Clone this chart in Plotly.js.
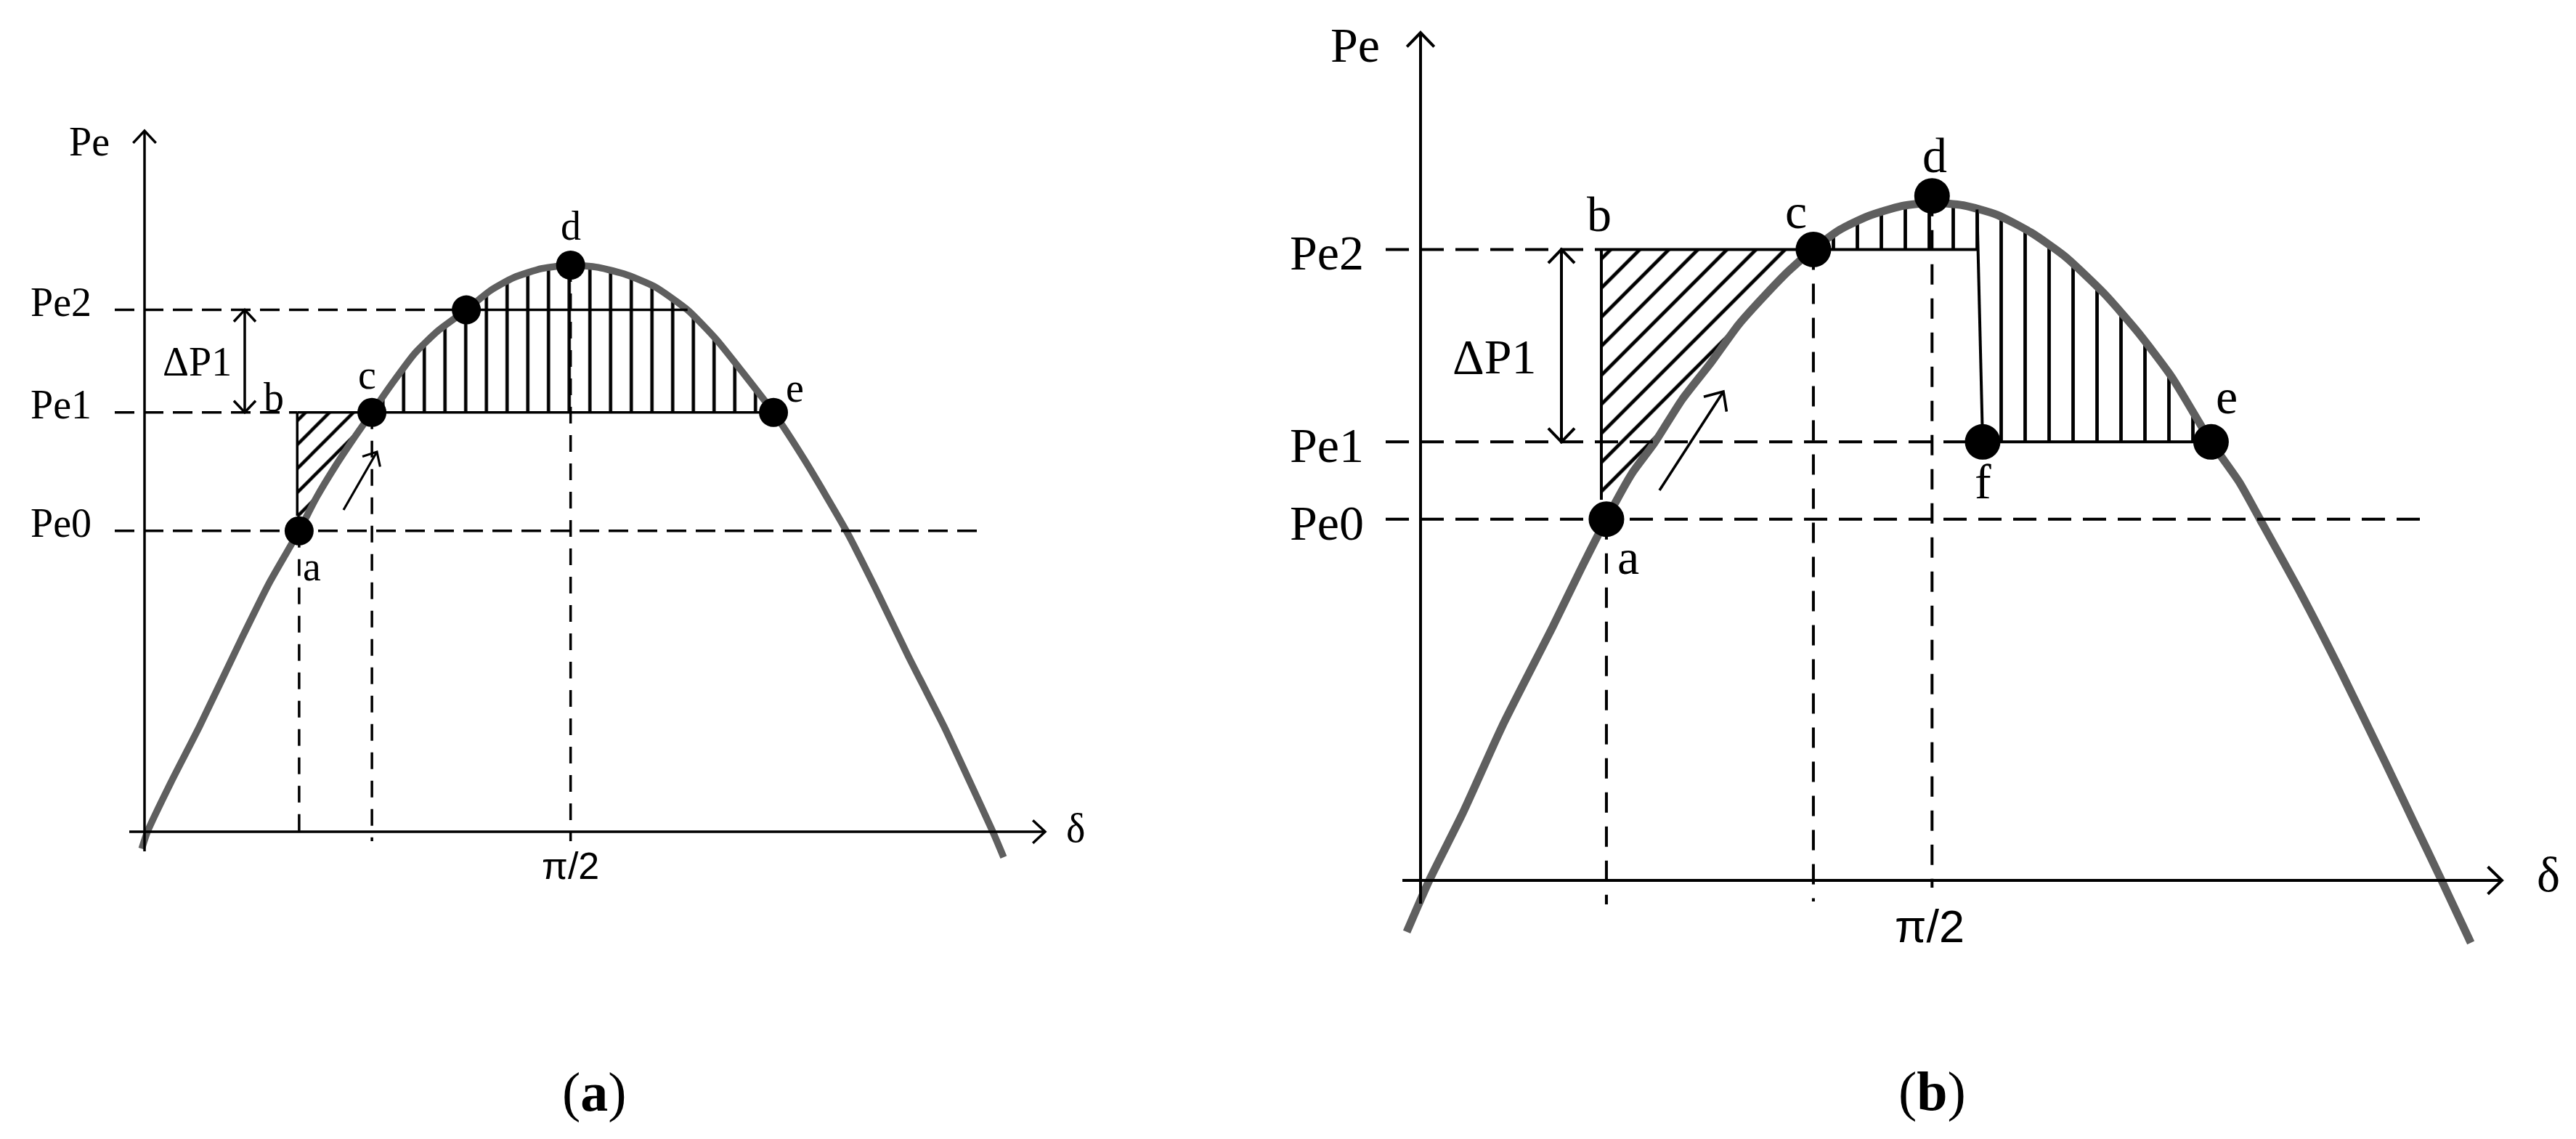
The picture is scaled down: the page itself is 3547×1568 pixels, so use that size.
<!DOCTYPE html>
<html>
<head>
<meta charset="utf-8">
<script src="https://cdn.plot.ly/plotly-3.0.1.min.js"></script>
<style>html,body{margin:0;padding:0;background:#fff}#chart{width:3547px;height:1568px}</style>
</head>
<body>
<div id="chart"></div>
<script>
// ======================= DATA =======================
// δ in degrees, Pe in per-unit of the curve's peak.
// Panel (a)
const curveA_delta = [-1.2, 0, 5, 11.1, 20, 26, 32.3, 36, 40, 44, 47.8, 52, 57, 62, 67.9, 73, 78, 84, 90, 96, 102, 108, 115, 121, 127, 133.3, 140, 148.8, 155, 162, 169.6, 175, 180, 182.3];
const curveA_pe    = [-0.03, 0, 0.087, 0.186, 0.34, 0.44, 0.531, 0.59, 0.645, 0.695, 0.74, 0.79, 0.845, 0.885, 0.921, 0.955, 0.978, 0.994, 1.0, 0.996, 0.983, 0.962, 0.921, 0.87, 0.808, 0.74, 0.655, 0.531, 0.43, 0.31, 0.186, 0.09, 0, -0.045];
const levelA_names  = ['Pe0', 'Pe1', 'Pe2'];
const levelA_values = [0.531, 0.740, 0.921];
const pointA_names  = ['a', 'c', '', 'd', 'e'];
const pointA_delta  = [32.3, 47.8, 67.9, 90.1, 133.3];
const pointA_pe     = [0.531, 0.740, 0.921, 1.0, 0.740];
const cornerA_b     = [31.9, 0.740];

// Panel (b)
const curveB_delta = [-4.0, 0, 6, 13, 22, 27, 31.5, 36, 40, 45, 50, 55, 60, 64, 68.3, 73, 78, 84, 89.4, 95, 101, 107, 113, 120, 126, 132, 139, 144, 147.7, 155, 162, 170, 175, 180, 185.2];
const curveB_pe    = [-0.076, 0, 0.1, 0.228, 0.375, 0.46, 0.533, 0.6, 0.645, 0.71, 0.763, 0.82, 0.866, 0.9, 0.931, 0.96, 0.98, 0.995, 1.0, 0.996, 0.982, 0.956, 0.921, 0.866, 0.809, 0.743, 0.647, 0.588, 0.533, 0.423, 0.31, 0.174, 0.087, 0, -0.092];
const levelB_names  = ['Pe0', 'Pe1', 'Pe2'];
const levelB_values = [0.533, 0.647, 0.931];
const pointB_names  = ['a', 'c', 'd', 'f', 'e'];
const pointB_delta  = [31.5, 68.3, 89.4, 98.4, 139.0];
const pointB_pe     = [0.533, 0.931, 1.01, 0.647, 0.647];
const cornerB_b     = [30.6, 0.931];
const dropB_top     = [97.4, 0.99];   // the vertical drop to f starts on the curve here

const tickValue = 90, tickText = 'π/2';
const axisNames = ['Pe', 'δ'];
const deltaPText = 'ΔP1';
const captions = ['(<b>a</b>)', '(<b>b</b>)'];

// ======================= LAYOUT / STYLE =======================
const W = 3547, H = 1568;
const BLACK = '#000', GREY = '#5f5f5f';
const SERIF = '"Liberation Serif","Times New Roman",Times,serif';
const SANS = '"Liberation Sans",Arial,Helvetica,sans-serif';

// pixel placement of each panel's (δ, Pe) frame
const frameA = {x0: 203, y0: 1145, sx: 6.467, sy: 780};
const frameB = {x0: 1968, y0: 1212, sx: 7.744, sy: 933};
const toD = (f, px) => (px - f.x0) / f.sx;
const toP = (f, py) => (f.y0 - py) / f.sy;
const rangeX = f => [toD(f, 0), toD(f, W)];
const rangeY = f => [toP(f, H), toP(f, 0)];

const styleA = {
  xa: 'x', ya: 'y', f: frameA, lw: 3.5, hdash: '27px,13px', vdash: '23px,16px', dot: 40, font: 56, curveW: 9.5,
  diag: {size: 23.3, solidity: 0.19}, vert: {size: 28.5, solidity: 0.16},
  chevLen: 23, chevAng: 43, motionLen: 21, motionAng: 42,
  leftPx: 158, pe0EndPx: 1355, vBottomPx: [1158, 1158, 1158], bBottomPx: 710, dpPx: 337,
  motionFromPx: [473, 702], motionToPx: [519, 622],
  pePx: [123, 195], levelRightPx: 128, levelShift: 11, dpLabelPx: [271, 498],
  deltaLabelPx: [1481, 1140], tickYPx: 1192, tickShift: 0, tickFont: 52, captionPx: [818, 1503],
  yAxisPx: {x: 199, y0: 1172, y1: 180}, xAxisPx: {y: 1145, x0: 178, x1: 1439},
  shifts: {a: [18, -49], b: [-32, 21], c: [-7, 52], d: [0, 54], e: [29, 34]}
};
const styleB = {
  xa: 'x2', ya: 'y2', f: frameB, lw: 4, hdash: '32px,16px', vdash: '28px,19px', dot: 49, font: 68, curveW: 11,
  diag: {size: 28.3, solidity: 0.17}, vert: {size: 33, solidity: 0.145},
  chevLen: 27, chevAng: 44, motionLen: 28, motionAng: 42,
  leftPx: 1908, pe0EndPx: 3348, vBottomPx: [1245, 1241, 1222], bBottomPx: 688, dpPx: 2150,
  motionFromPx: [2285, 675], motionToPx: [2373, 539],
  pePx: [1866, 62], levelRightPx: 1880, levelShift: -5, dpLabelPx: [2058, 491],
  deltaLabelPx: [3509, 1204], tickYPx: 1275, tickShift: -8, tickFont: 63, captionPx: [2660, 1502],
  yAxisPx: {x: 1956, y0: 1244, y1: 45}, xAxisPx: {y: 1212, x0: 1931, x1: 3445},
  shifts: {a: [30, -52], b: [-3, 48], c: [-24, 52], d: [4, 56], f: [0, -55], e: [22, 62]}
};

// ======================= HELPERS =======================
const traces = [], shapes = [], annotations = [];

function inner(xs, ys, lo, hi) {
  const o = {x: [], y: []};
  for (let i = 0; i < xs.length; i++) if (xs[i] > lo && xs[i] < hi) { o.x.push(xs[i]); o.y.push(ys[i]); }
  return o;
}
function fallingCrossing(xs, ys, level) {
  let im = 0; for (let i = 1; i < ys.length; i++) if (ys[i] > ys[im]) im = i;
  for (let i = im + 1; i < xs.length; i++) {
    if (ys[i - 1] >= level && ys[i] <= level) {
      const t = (ys[i - 1] - level) / (ys[i - 1] - ys[i] || 1);
      return xs[i - 1] + t * (xs[i] - xs[i - 1]);
    }
  }
  return xs[xs.length - 1];
}
function fillTrace(x, y, S, shape, pat) {
  return {type: 'scatter', mode: 'lines', x, y, xaxis: S.xa, yaxis: S.ya, fill: 'toself',
    fillcolor: 'rgba(0,0,0,0)', line: {width: 0, color: 'rgba(0,0,0,0)'},
    fillpattern: {shape, size: pat.size, solidity: pat.solidity, fgcolor: BLACK, bgcolor: 'rgba(0,0,0,0)', fgopacity: 1},
    hoverinfo: 'skip', showlegend: false};
}
function segTrace(segs, S, width, dash) {
  const x = [], y = [];
  segs.forEach(s => { x.push(s[0][0], s[1][0], null); y.push(s[0][1], s[1][1], null); });
  return {type: 'scatter', mode: 'lines', x, y, xaxis: S.xa, yaxis: S.ya,
    line: {color: BLACK, width, dash: dash || 'solid'}, hoverinfo: 'skip', showlegend: false, connectgaps: false};
}
function chevron(xref, yref, ax, ay, dx, dy, len, angDeg, width) {
  const n = Math.hypot(dx, dy), bx = -dx / n, by = -dy / n, a = angDeg * Math.PI / 180;
  const w1x = len * (bx * Math.cos(a) - by * Math.sin(a)), w1y = len * (bx * Math.sin(a) + by * Math.cos(a));
  const w2x = len * (bx * Math.cos(-a) - by * Math.sin(-a)), w2y = len * (bx * Math.sin(-a) + by * Math.cos(-a));
  return {type: 'path', xref, yref, xsizemode: 'pixel', ysizemode: 'pixel', xanchor: ax, yanchor: ay,
    path: 'M ' + w1x.toFixed(2) + ' ' + w1y.toFixed(2) + ' L 0 0 L ' + w2x.toFixed(2) + ' ' + w2y.toFixed(2),
    line: {color: BLACK, width}, fillcolor: 'rgba(0,0,0,0)', layer: 'above'};
}
function lineShape(xref, yref, x0, y0, x1, y1, width) {
  return {type: 'line', xref, yref, x0, y0, x1, y1, line: {color: BLACK, width}, layer: 'above'};
}
function text(xref, yref, x, y, t, size, family, opts) {
  return Object.assign({xref, yref, x, y, text: t, showarrow: false, xanchor: 'center', yanchor: 'middle',
    font: {size, family, color: BLACK}}, opts || {});
}
function commonDecor(S, caption) {
  const ya = S.yAxisPx, xa = S.xAxisPx;
  shapes.push(lineShape('x3', 'y3', ya.x, ya.y0, ya.x, ya.y1, S.lw));
  shapes.push(chevron('x3', 'y3', ya.x, ya.y1, 0, 1, S.chevLen, S.chevAng, S.lw));
  shapes.push(lineShape('x3', 'y3', xa.x0, xa.y, xa.x1, xa.y, S.lw));
  shapes.push(chevron('x3', 'y3', xa.x1, xa.y, 1, 0, S.chevLen, S.chevAng, S.lw));
  annotations.push(text('x3', 'y3', S.pePx[0], S.pePx[1], axisNames[0], S.font, SERIF));
  annotations.push(text('x3', 'y3', S.deltaLabelPx[0], S.deltaLabelPx[1], axisNames[1], S.font, SERIF));
  annotations.push(text('x3', 'y3', S.dpLabelPx[0], S.dpLabelPx[1], deltaPText, S.font, SERIF));
  annotations.push(text('x3', 'y3', S.captionPx[0], S.captionPx[1], caption, 76, SERIF));
  annotations.push(text(S.xa, S.ya, tickValue, toP(S.f, S.tickYPx), tickText, S.tickFont, SANS, {xshift: S.tickShift}));
}
function levelLabels(S, names, values) {
  names.forEach((n, i) => annotations.push(text(S.xa, S.ya, toD(S.f, S.levelRightPx), values[i], n, S.font, SERIF,
    {xanchor: 'right', yshift: S.levelShift})));
}
function deltaPArrow(S, lo, hi) {
  const x = toD(S.f, S.dpPx);
  traces.push(segTrace([[[x, lo], [x, hi]]], S, S.lw));
  shapes.push(chevron(S.xa, S.ya, x, hi, 0, 1, S.chevLen - 1, S.chevAng, S.lw));
  shapes.push(chevron(S.xa, S.ya, x, lo, 0, -1, S.chevLen - 1, S.chevAng, S.lw));
}
function motionArrow(S) {
  const p0 = [toD(S.f, S.motionFromPx[0]), toP(S.f, S.motionFromPx[1])];
  const p1 = [toD(S.f, S.motionToPx[0]), toP(S.f, S.motionToPx[1])];
  traces.push(segTrace([[p0, p1]], S, S.lw * 0.9));
  shapes.push(chevron(S.xa, S.ya, p1[0], p1[1], (p1[0] - p0[0]) * S.f.sx, (p1[1] - p0[1]) * S.f.sy, S.motionLen, S.motionAng, S.lw * 0.9));
}
function dots(S, xs, ys) {
  traces.push({type: 'scatter', mode: 'markers', x: xs, y: ys, xaxis: S.xa, yaxis: S.ya,
    marker: {size: S.dot, color: BLACK, line: {width: 0}}, hoverinfo: 'skip', showlegend: false});
}
function pointLabels(S, names, xs, ys, extra) {
  names.forEach((n, i) => {
    if (!n) return;
    const sh = S.shifts[n];
    annotations.push(text(S.xa, S.ya, xs[i], ys[i], n, S.font, SERIF, {xshift: sh[0], yshift: sh[1]}));
  });
  if (extra) annotations.push(text(S.xa, S.ya, extra[1][0], extra[1][1], extra[0], S.font, SERIF,
    {xshift: S.shifts[extra[0]][0], yshift: S.shifts[extra[0]][1]}));
}

// ======================= PANEL (a) =======================
(function () {
  const S = styleA, f = S.f;
  const [pe0, pe1, pe2] = levelA_values;
  const [aD, cD, p2D, dD, eD] = pointA_delta;
  const bD = cornerA_b[0];
  const left = toD(f, S.leftPx);

  const ac = inner(curveA_delta, curveA_pe, aD, cD);
  traces.push(fillTrace([bD, cD].concat(ac.x.slice().reverse(), [aD, bD]),
                        [pe1, pe1].concat(ac.y.slice().reverse(), [pe0, pe0]), S, '/', S.diag));
  const ce = inner(curveA_delta, curveA_pe, cD, eD);
  traces.push(fillTrace([cD].concat(ce.x, [eD]), [pe1].concat(ce.y, [pe1]), S, '|', S.vert));

  traces.push({type: 'scatter', mode: 'lines', x: curveA_delta, y: curveA_pe, xaxis: S.xa, yaxis: S.ya,
    line: {color: GREY, width: S.curveW, shape: 'spline', smoothing: 0.6}, hoverinfo: 'skip', showlegend: false});

  traces.push(segTrace([[[left, pe0], [toD(f, S.pe0EndPx), pe0]], [[left, pe1], [bD, pe1]], [[left, pe2], [p2D, pe2]]], S, S.lw, S.hdash));
  const vb = S.vBottomPx.map(p => toP(f, p));
  traces.push(segTrace([[[aD, pointA_pe[0]], [aD, vb[0]]], [[cD, pointA_pe[1]], [cD, vb[1]]], [[dD, pointA_pe[3]], [dD, vb[2]]]], S, S.lw, S.vdash));

  const p2Right = fallingCrossing(curveA_delta, curveA_pe, pe2);
  traces.push(segTrace([[[bD, pe1], [eD, pe1]], [[p2D, pe2], [p2Right, pe2]], [[bD, pe1], [bD, toP(f, S.bBottomPx)]]], S, S.lw));

  deltaPArrow(S, pe1, pe2);
  motionArrow(S);
  dots(S, pointA_delta, pointA_pe);
  pointLabels(S, pointA_names, pointA_delta, pointA_pe, ['b', cornerA_b]);
  levelLabels(S, levelA_names, levelA_values);
  commonDecor(S, captions[0]);
})();

// ======================= PANEL (b) =======================
(function () {
  const S = styleB, f = S.f;
  const [pe0, pe1, pe2] = levelB_values;
  const [aD, cD, dD, fD, eD] = pointB_delta;
  const bD = cornerB_b[0];
  const left = toD(f, S.leftPx);
  const cutD = dropB_top[0] + (dropB_top[1] - pe2) / (dropB_top[1] - pe1) * (fD - dropB_top[0]);

  const ac = inner(curveB_delta, curveB_pe, aD, cD);
  traces.push(fillTrace([bD, cD].concat(ac.x.slice().reverse(), [aD, bD]),
                        [pe2, pe2].concat(ac.y.slice().reverse(), [pe0, pe0]), S, '/', S.diag));
  const ce = inner(curveB_delta, curveB_pe, cD, eD);
  traces.push(fillTrace([cD].concat(ce.x, [eD, fD, cutD]), [pe2].concat(ce.y, [pe1, pe1, pe2]), S, '|', S.vert));

  traces.push({type: 'scatter', mode: 'lines', x: curveB_delta, y: curveB_pe, xaxis: S.xa, yaxis: S.ya,
    line: {color: GREY, width: S.curveW, shape: 'spline', smoothing: 0.6}, hoverinfo: 'skip', showlegend: false});

  traces.push(segTrace([[[left, pe0], [toD(f, S.pe0EndPx), pe0]], [[left, pe1], [fD, pe1]], [[left, pe2], [bD, pe2]]], S, S.lw, S.hdash));
  const vb = S.vBottomPx.map(p => toP(f, p));
  traces.push(segTrace([[[aD, pointB_pe[0]], [aD, vb[0]]], [[cD, pointB_pe[1]], [cD, vb[1]]], [[dD, pointB_pe[2]], [dD, vb[2]]]], S, S.lw, S.vdash));

  traces.push(segTrace([[[bD, pe2], [cutD, pe2]], [dropB_top, [fD, pe1]], [[fD, pe1], [eD, pe1]], [[bD, pe2], [bD, toP(f, S.bBottomPx)]]], S, S.lw));

  deltaPArrow(S, pe1, pe2);
  motionArrow(S);
  dots(S, pointB_delta, pointB_pe);
  pointLabels(S, pointB_names, pointB_delta, pointB_pe, ['b', cornerB_b]);
  levelLabels(S, levelB_names, levelB_values);
  commonDecor(S, captions[1]);
})();

// ======================= RENDER =======================
const hidden = {visible: false, fixedrange: true, domain: [0, 1]};
const layout = {
  width: W, height: H, margin: {l: 0, r: 0, t: 0, b: 0, pad: 0},
  paper_bgcolor: '#fff', plot_bgcolor: 'rgba(0,0,0,0)', showlegend: false, hovermode: false,
  xaxis: Object.assign({}, hidden, {range: rangeX(frameA), anchor: 'y'}),
  yaxis: Object.assign({}, hidden, {range: rangeY(frameA), anchor: 'x'}),
  xaxis2: Object.assign({}, hidden, {range: rangeX(frameB), anchor: 'y2', overlaying: 'x'}),
  yaxis2: Object.assign({}, hidden, {range: rangeY(frameB), anchor: 'x2', overlaying: 'y'}),
  xaxis3: Object.assign({}, hidden, {range: [0, W], anchor: 'y3', overlaying: 'x'}),
  yaxis3: Object.assign({}, hidden, {range: [H, 0], anchor: 'x3', overlaying: 'y'}),
  shapes, annotations
};
Plotly.newPlot('chart', traces, layout, {staticPlot: true, displayModeBar: false});
</script>
</body>
</html>
